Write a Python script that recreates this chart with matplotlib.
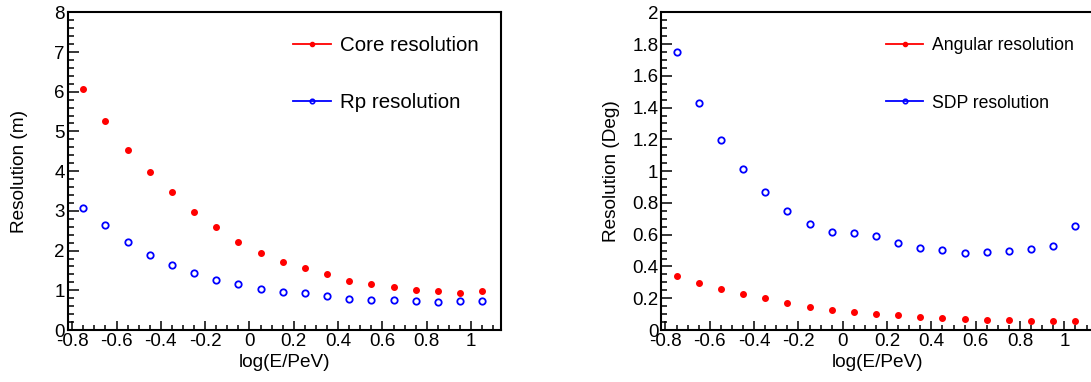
import numpy as np
import matplotlib
matplotlib.use("Agg")
import matplotlib.pyplot as plt
from matplotlib.lines import Line2D
from matplotlib.ticker import MultipleLocator, FormatStrFormatter

plt.rcParams["font.family"] = ["Liberation Sans", "DejaVu Sans"]

# log10(E/PeV) bin centres
log_e = [-0.75, -0.65, -0.55, -0.45, -0.35, -0.25, -0.15, -0.05, 0.05, 0.15,
         0.25, 0.35, 0.45, 0.55, 0.65, 0.75, 0.85, 0.95, 1.05]

# left panel (m)
core_res = [6.06, 5.27, 4.53, 3.98, 3.47, 2.98, 2.59, 2.22, 1.94, 1.72,
            1.55, 1.40, 1.24, 1.15, 1.09, 1.01, 0.97, 0.94, 0.97]
rp_res = [3.08, 2.64, 2.22, 1.89, 1.64, 1.44, 1.27, 1.15, 1.04, 0.95,
          0.92, 0.85, 0.79, 0.76, 0.76, 0.73, 0.71, 0.73, 0.74]

# right panel (deg)
angular_res = [0.337, 0.293, 0.258, 0.228, 0.199, 0.170, 0.142, 0.126, 0.113, 0.101,
               0.094, 0.084, 0.077, 0.071, 0.065, 0.061, 0.059, 0.054, 0.059]
sdp_res = [1.749, 1.432, 1.196, 1.016, 0.871, 0.752, 0.670, 0.618, 0.612, 0.593,
           0.547, 0.515, 0.505, 0.486, 0.490, 0.496, 0.509, 0.530, 0.655]

RED = "#ff0000"
BLUE = "#0000ff"
XLIM = (-0.82, 1.135)


def style_axis(ax, ylim, ymajor, yminor):
    ax.set_xlim(*XLIM)
    ax.set_ylim(*ylim)
    ax.xaxis.set_major_locator(MultipleLocator(0.2))
    ax.xaxis.set_minor_locator(MultipleLocator(0.05))
    ax.yaxis.set_major_locator(MultipleLocator(ymajor))
    ax.yaxis.set_minor_locator(MultipleLocator(yminor))
    ax.xaxis.set_major_formatter(FormatStrFormatter("%g"))
    ax.yaxis.set_major_formatter(FormatStrFormatter("%g"))
    ax.tick_params(axis="both", which="both", direction="in", top=False, right=False,
                   width=1.1, labelsize=13.5, pad=2)
    ax.tick_params(axis="x", which="major", length=6.8)
    ax.tick_params(axis="x", which="minor", length=3.6)
    ax.tick_params(axis="y", which="major", length=8)
    ax.tick_params(axis="y", which="minor", length=4.3)
    for sp in ax.spines.values():
        sp.set_linewidth(1.5)
    ax.set_xlabel("log(E/PeV)", fontsize=13.7)
    ax.xaxis.set_label_coords(0.5, -0.075)


fig = plt.figure(figsize=(10.91, 3.82), dpi=100)
ax1 = fig.add_axes([0.0621, 0.1361, 0.3971, 0.8317])
ax2 = fig.add_axes([0.6059, 0.1361, 0.3971, 0.8317])

# left: core / Rp
ax1.plot(log_e, core_res, ls="none", marker="o", ms=4.0, color=RED, mec=RED)
ax1.plot(log_e, rp_res, ls="none", marker="o", ms=4.6, mfc="none", mec=BLUE, mew=1.3)
style_axis(ax1, (0, 8), 1, 0.2)
ax1.set_ylabel("Resolution (m)", fontsize=13.7)
ax1.yaxis.set_label_coords(-0.091, 0.5)
h1 = [Line2D([], [], color=RED, lw=1.3, marker="o", ms=3),
      Line2D([], [], color=BLUE, lw=1.3, marker="o", ms=3.2, mfc="none", mew=1.2)]
ax1.legend(h1, ["Core resolution", "Rp resolution"], loc="upper left",
           bbox_to_anchor=(0.4954, 0.957), frameon=False, fontsize=14.8,
           handlelength=1.85, handletextpad=0.45, labelspacing=1.84, borderpad=0)

# right: angular / SDP
ax2.plot(log_e, angular_res, ls="none", marker="o", ms=4.0, color=RED, mec=RED)
ax2.plot(log_e, sdp_res, ls="none", marker="o", ms=4.6, mfc="none", mec=BLUE, mew=1.3)
style_axis(ax2, (0, 2), 0.2, 0.05)
ax2.set_ylabel("Resolution (Deg)", fontsize=13.7)
ax2.yaxis.set_label_coords(-0.095, 0.5)
h2 = [Line2D([], [], color=RED, lw=1.3, marker="o", ms=3),
      Line2D([], [], color=BLUE, lw=1.3, marker="o", ms=3.2, mfc="none", mew=1.2)]
ax2.legend(h2, ["Angular resolution", "SDP resolution"], loc="upper left",
           bbox_to_anchor=(0.499, 0.950), frameon=False, fontsize=12.7,
           handlelength=2.1, handletextpad=0.5, labelspacing=2.3, borderpad=0)

fig.savefig("out.png", dpi=100)
